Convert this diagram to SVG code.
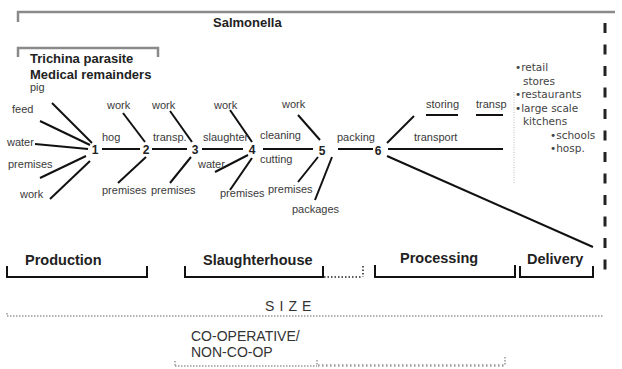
<svg xmlns="http://www.w3.org/2000/svg" width="622" height="369" viewBox="0 0 622 369">
<style>
text{font-family:"Liberation Sans",Arial,sans-serif;fill:#3a3a3a}
.lbl{font-size:11px}
.hd{font-size:13px;font-weight:bold;fill:#222}
.ph{font-size:14.5px;font-weight:bold;fill:#222}
.num{font-size:12px;font-weight:bold;fill:#222;text-anchor:middle}
.del{font-family:"DejaVu Sans",sans-serif;font-size:10.5px;fill:#444}
.cap{font-size:14px;fill:#333}
.ln{stroke:#111;stroke-width:2;fill:none}
.gray{stroke:#8a8a8a;stroke-width:2.5;fill:none}
.br{stroke:#111;stroke-width:2;fill:none}
.dotk{stroke:#222;stroke-width:1.5;stroke-dasharray:1.5 2;fill:none}
.dotg{stroke:#999;stroke-width:1.5;stroke-dasharray:1.5 1.5;fill:none}
.vdot{stroke:#bbb;stroke-width:1;stroke-dasharray:1 1.5;fill:none}
</style>
<rect width="622" height="369" fill="#fff"/>

<g id="scope-brackets">
  <path class="gray" d="M18,22 V12 H615"/>
  <path class="gray" d="M18,57 V48 H158 V57"/>
  <text class="hd" x="213" y="27">Salmonella</text>
  <text class="hd" x="30" y="63">Trichina parasite</text>
  <text class="hd" x="30" y="79">Medical remainders</text>
</g>

<g id="connectors">
  <path class="ln" d="M52,103 L92,143"/>
  <path class="ln" d="M40,121 L90,145"/>
  <path class="ln" d="M35,144 L88,149"/>
  <path class="ln" d="M40,178 L86,156"/>
  <path class="ln" d="M50,199 L90,161"/>
  <path class="ln" d="M102,149 H140"/>
  <path class="ln" d="M123,113 L145,142"/>
  <path class="ln" d="M118,183 L146,157"/>
  <path class="ln" d="M152,149 H187"/>
  <path class="ln" d="M170,111 L192,142"/>
  <path class="ln" d="M170,183 L191,157"/>
  <path class="ln" d="M202,149 H243"/>
  <path class="ln" d="M230,110 L252,142"/>
  <path class="ln" d="M215,172 L248,155"/>
  <path class="ln" d="M230,190 L252,158"/>
  <path class="ln" d="M263,149 H313"/>
  <path class="ln" d="M298,115 L320,140"/>
  <path class="ln" d="M298,182 L318,157"/>
  <path class="ln" d="M315,200 L332,157"/>
  <path class="ln" d="M338,149 H373"/>
  <path class="ln" d="M387,143 L414,116"/>
  <path class="ln" d="M388,149 H503"/>
  <path class="ln" d="M387,156 L593,247"/>
  <path class="ln" d="M426,115 H458"/>
  <path class="ln" d="M476,115 H503"/>
</g>

<g id="node-1"><text class="num" x="95" y="154">1</text></g>
<g id="node-2"><text class="num" x="146" y="154">2</text></g>
<g id="node-3"><text class="num" x="195" y="154">3</text></g>
<g id="node-4"><text class="num" x="252" y="154">4</text></g>
<g id="node-5"><text class="num" x="322" y="155">5</text></g>
<g id="node-6"><text class="num" x="378" y="155">6</text></g>

<g id="labels-1">
  <text class="lbl" x="30" y="91">pig</text>
  <text class="lbl" x="12" y="113">feed</text>
  <text class="lbl" x="7" y="146">water</text>
  <text class="lbl" x="8" y="168">premises</text>
  <text class="lbl" x="20" y="198">work</text>
</g>
<g id="labels-2">
  <text class="lbl" x="102" y="141">hog</text>
  <text class="lbl" x="107" y="109">work</text>
  <text class="lbl" x="102" y="194">premises</text>
</g>
<g id="labels-3">
  <text class="lbl" x="153" y="141">transp.</text>
  <text class="lbl" x="152" y="109">work</text>
  <text class="lbl" x="151" y="194">premises</text>
</g>
<g id="labels-4">
  <text class="lbl" x="203" y="141">slaughter</text>
  <text class="lbl" x="214" y="109">work</text>
  <text class="lbl" x="198" y="168">water</text>
  <text class="lbl" x="220" y="197">premises</text>
</g>
<g id="labels-5">
  <text class="lbl" x="260" y="139">cleaning</text>
  <text class="lbl" x="260" y="163">cutting</text>
  <text class="lbl" x="282" y="108">work</text>
  <text class="lbl" x="268" y="193">premises</text>
  <text class="lbl" x="292" y="213">packages</text>
</g>
<g id="labels-6">
  <text class="lbl" x="337" y="141">packing</text>
  <text class="lbl" x="426" y="108">storing</text>
  <text class="lbl" x="476" y="108">transp</text>
  <text class="lbl" x="414" y="141">transport</text>
</g>

<g id="delivery-list">
  <path class="vdot" d="M514,92 V183"/>
  <text class="del" x="515" y="71">•retail</text>
  <text class="del" x="523" y="84.5">stores</text>
  <text class="del" x="515" y="98">•restaurants</text>
  <text class="del" x="515" y="111.5">•large scale</text>
  <text class="del" x="523" y="125">kitchens</text>
  <text class="del" x="550" y="138.5">•schools</text>
  <text class="del" x="550" y="152">•hosp.</text>
</g>

<g id="boundary">
  <path d="M605,23 V278" stroke="#222" stroke-width="3" stroke-dasharray="10 11.5" fill="none"/>
</g>

<g id="phases">
  <path class="br" d="M7,266 V277 H147 V266"/>
  <text class="ph" x="25" y="265">Production</text>
  <path class="br" d="M185,266 V277 H323 V266"/>
  <text class="ph" x="203" y="265">Slaughterhouse</text>
  <path class="dotk" d="M324,277 H362"/>
  <path class="dotk" d="M363,266 V277"/>
  <path class="br" d="M375,265 V277 H515 V265"/>
  <text class="ph" x="400" y="263">Processing</text>
  <path class="br" d="M520,266 V277 H593 V266"/>
  <text class="ph" x="527" y="264">Delivery</text>
</g>

<g id="size">
  <text class="cap" x="265" y="311" style="letter-spacing:0.6px">S I Z E</text>
  <path class="dotg" d="M7,316 H603"/>
  <path class="dotg" d="M7,313 V316"/>
</g>

<g id="cooperative">
  <text class="cap" x="191" y="341">CO-OPERATIVE/</text>
  <text class="cap" x="191" y="357">NON-CO-OP</text>
  <path class="dotg" d="M175,366 H317"/>
  <path class="dotg" d="M175,361 V366"/>
  <path class="dotg" d="M317,360 V366"/>
  <path d="M318,365.5 H505" stroke="#999" stroke-width="2.5" stroke-dasharray="1.5 2.5" fill="none"/>
  <path class="dotg" d="M505,357 V366"/>
</g>
</svg>
